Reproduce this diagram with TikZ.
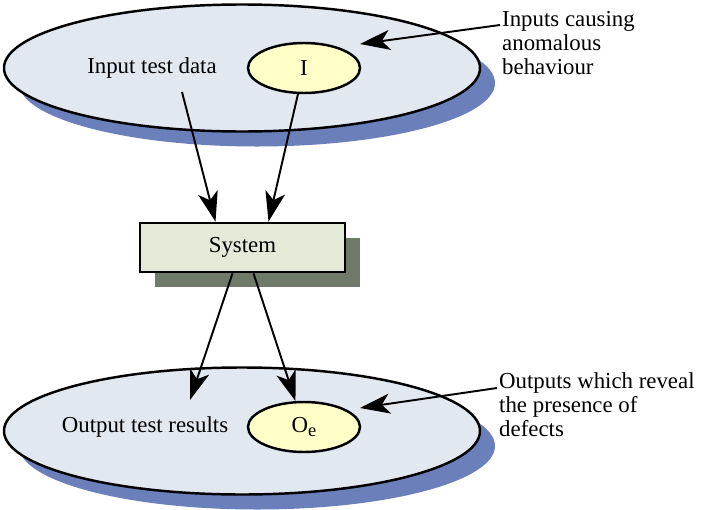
\documentclass[tikz,border=0pt]{standalone}
\usepackage{fontspec}
\setmainfont{Liberation Serif}
\usetikzlibrary{shapes.geometric,shadows,arrows.meta,calc}
\definecolor{setfill}{RGB}{226,232,240}
\definecolor{setshadow}{RGB}{107,127,186}
\definecolor{subfill}{RGB}{255,255,200}
\definecolor{sysfill}{RGB}{228,234,216}
\definecolor{sysshadow}{RGB}{111,122,104}

\begin{document}
\begin{tikzpicture}[x=0.2mm, y=-0.2mm,
    every node/.style={font=\fontsize{13}{13.7}\selectfont},
    set/.style={ellipse, draw, line width=1.4pt, fill=setfill,
        minimum width=95.2mm, minimum height=25.4mm,
        drop shadow={shadow xshift=3mm, shadow yshift=-3mm, fill=setshadow, opacity=1}},
    subset/.style={ellipse, draw, line width=1.4pt, fill=subfill,
        minimum width=22.4mm, minimum height=10mm},
    sysbox/.style={rectangle, draw, line width=1.6pt, fill=sysfill,
        minimum width=41mm, minimum height=9.8mm,
        drop shadow={shadow xshift=3mm, shadow yshift=-3mm, fill=sysshadow, opacity=1}},
    flow/.style={line width=1.1pt, -{Stealth[length=6mm, width=4mm, inset=1.6mm]}},
    note/.style={align=left, anchor=west}]
    \useasboundingbox (0,0) rectangle (715,510);

    % 输入
    \node[set] (inset) at (242,68) {};
    \node (indata) at (152,68) {Input test data};
    \node[subset] (I) at (304,68) {I};
    \node[note] (innote) at (496,43) {Inputs causing\\anomalous\\behaviour};
    \coordinate (inA) at (182,92);
    \coordinate (anomTip) at (360,44);

    % 系统
    \node[sysbox] (system) at (242.5,247.5) {System};

    % 输出
    \node[set] (outset) at (242,431) {};
    \node (outdata) at (145,427) {Output test results};
    \node[subset] (Oe) at (304,427) {O\raisebox{-0.45ex}{\fontsize{10.5}{10.5}\selectfont e}};
    \node[note] (outnote) at (493,405) {Outputs which reveal\\the presence of\\defects};
    \coordinate (outA) at (190,400);
    \coordinate (defTip) at (360,408);

    % 箭头
    \draw[flow] (inA) -- ($(system.north)+(-27,0)$);
    \draw[flow] (I) -- ($(system.north)+(26,0)$);
    \draw[flow] ($(system.south)+(-10,0)$) -- (outA);
    \draw[flow] ($(system.south)+(11,0)$) -- (Oe);
    \draw[flow] ($(innote.west)+(4,-18)$) -- (anomTip);
    \draw[flow] ($(outnote.west)+(4,-17)$) -- (defTip);
\end{tikzpicture}
\end{document}
